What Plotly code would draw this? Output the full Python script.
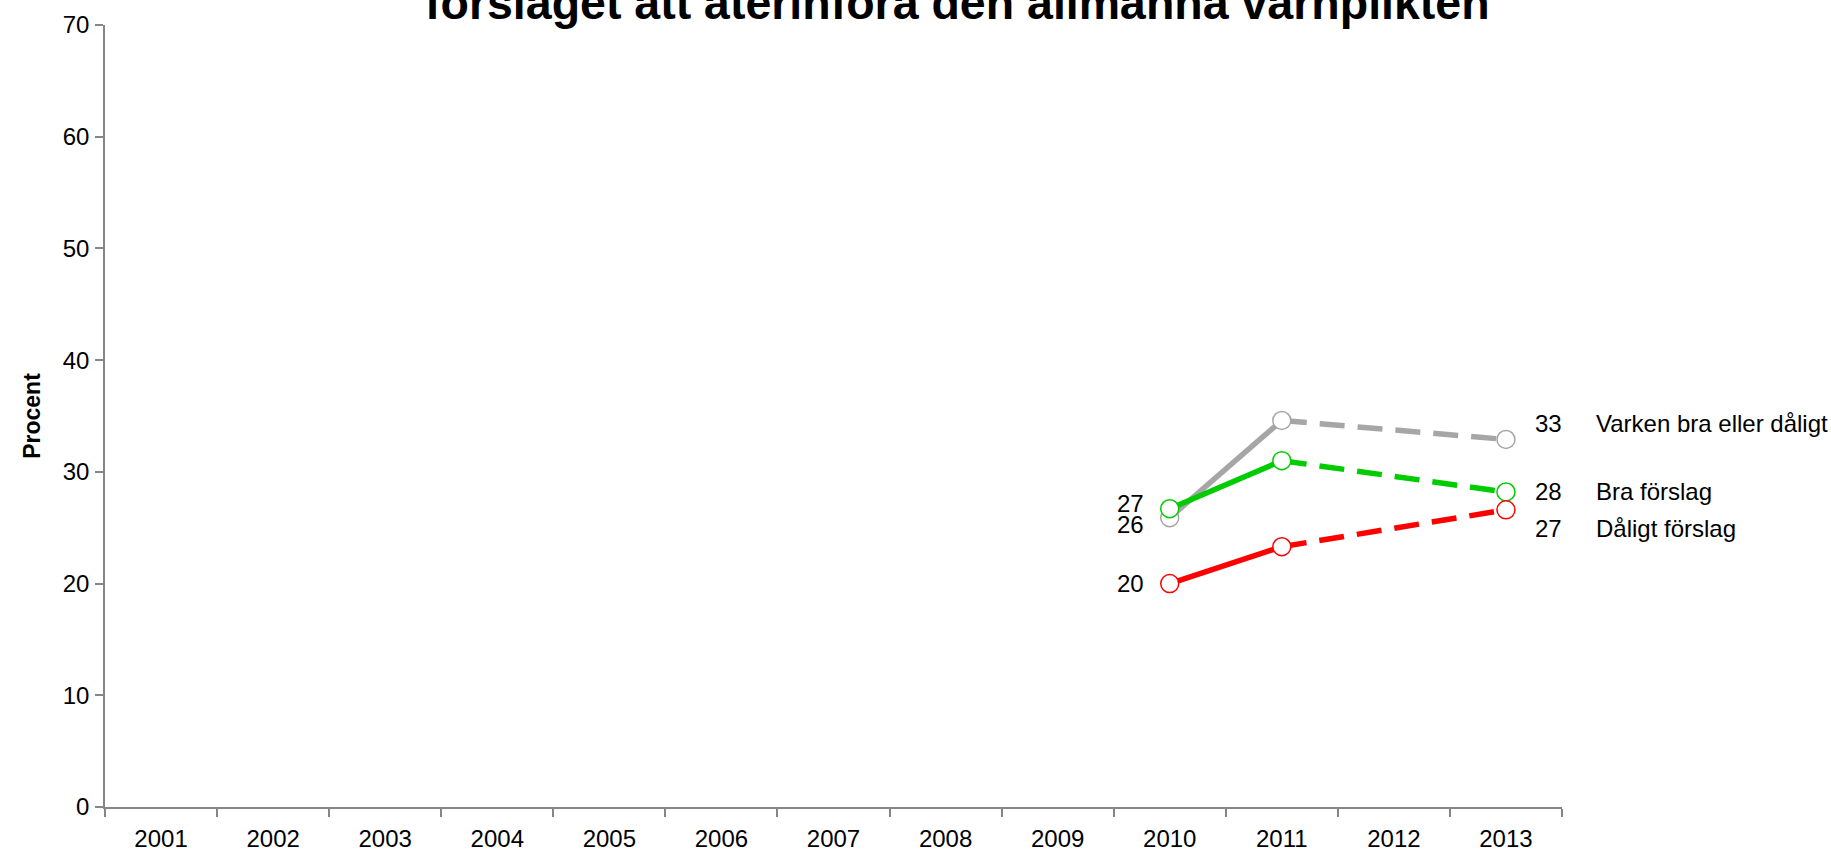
import plotly.graph_objects as go

years = [str(y) for y in range(2001, 2014)]
data_years = ["2010", "2011", "2013"]

series_names = ["Varken bra eller dåligt", "Bra förslag", "Dåligt förslag"]
varken = [25.9, 34.6, 32.9]
bra = [26.7, 31.0, 28.2]
daligt = [20.0, 23.3, 26.6]
values = [varken, bra, daligt]
colors = ["#A6A6A6", "#00CC00", "#FF0000"]

# label offsets (pixels) for left/right value labels and series names
left_yshift = [-7, 5, 0]
right_yshift = [16, 0, -19]

title_text = "förslaget att återinföra den allmänna värnplikten"
FONT = "Liberation Sans, Arial, sans-serif"

fig = go.Figure()
for name, vals, col in zip(series_names, values, colors):
    fig.add_trace(go.Scatter(
        x=data_years[:2], y=vals[:2], mode="lines",
        line=dict(color=col, width=5.5), showlegend=False, hoverinfo="skip"))
    fig.add_trace(go.Scatter(
        x=data_years[1:], y=vals[1:], mode="lines",
        line=dict(color=col, width=5.5, dash="25px,13px"), showlegend=False, hoverinfo="skip"))
for name, vals, col in zip(series_names, values, colors):
    fig.add_trace(go.Scatter(
        x=data_years, y=vals, mode="markers", name=name,
        marker=dict(symbol="circle", size=18, color="white",
                    line=dict(color=col, width=1.5)),
        showlegend=False))

# category index positions for annotations on the category axis
i_first = years.index(data_years[0])
i_last = years.index(data_years[-1])

annotations = []
for name, vals, ls, rs in zip(series_names, values, left_yshift, right_yshift):
    annotations.append(dict(x=i_first, y=vals[0], xref="x", yref="y",
                            text=str(round(vals[0])), showarrow=False,
                            xanchor="right", xshift=-24, yshift=ls,
                            font=dict(size=24, color="black", family=FONT)))
    annotations.append(dict(x=i_last, y=vals[-1], xref="x", yref="y",
                            text=str(round(vals[-1])), showarrow=False,
                            xanchor="left", xshift=27, yshift=rs,
                            font=dict(size=24, color="black", family=FONT)))
    annotations.append(dict(x=i_last, y=vals[-1], xref="x", yref="y",
                            text=name, showarrow=False,
                            xanchor="left", xshift=88, yshift=rs,
                            font=dict(size=24, color="black", family=FONT)))

annotations.append(dict(x=0.585, y=1, xref="paper", yref="paper",
                        text="<b>" + title_text + "</b>", showarrow=False,
                        xanchor="center", yanchor="bottom", yshift=-6,
                        font=dict(size=46.5, color="black", family=FONT)))

fig.update_layout(
    width=1831, height=851,
    margin=dict(l=105, r=269, t=24.5, b=44, autoexpand=False),
    paper_bgcolor="white", plot_bgcolor="white",
    font=dict(family=FONT, size=24, color="black"),
    annotations=annotations,
    showlegend=False,
)
fig.update_xaxes(
    type="category", categoryorder="array", categoryarray=years,
    tickvals=years, range=[-0.5, 12.5],
    showgrid=False, zeroline=False,
    showline=True, linecolor="#868686", linewidth=1.5,
    ticks="outside", tickson="boundaries", ticklen=8, tickcolor="#868686", tickwidth=1.5,
    tickfont=dict(size=24, family=FONT, color="black"),
    ticklabelstandoff=9,
)
fig.update_yaxes(
    range=[0, 70], tickvals=list(range(0, 71, 10)),
    showgrid=False, zeroline=False,
    showline=True, linecolor="#868686", linewidth=1.5,
    ticks="outside", ticklen=8, tickcolor="#868686", tickwidth=1.5,
    tickfont=dict(size=24, family=FONT, color="black"),
    ticklabelstandoff=1,
    title=dict(text="<b>Procent</b>", font=dict(size=23, family=FONT, color="black"),
               standoff=16),
)

fig.write_html("out.html", config={"displayModeBar": False},
               post_script="document.body.style.margin='0';")
